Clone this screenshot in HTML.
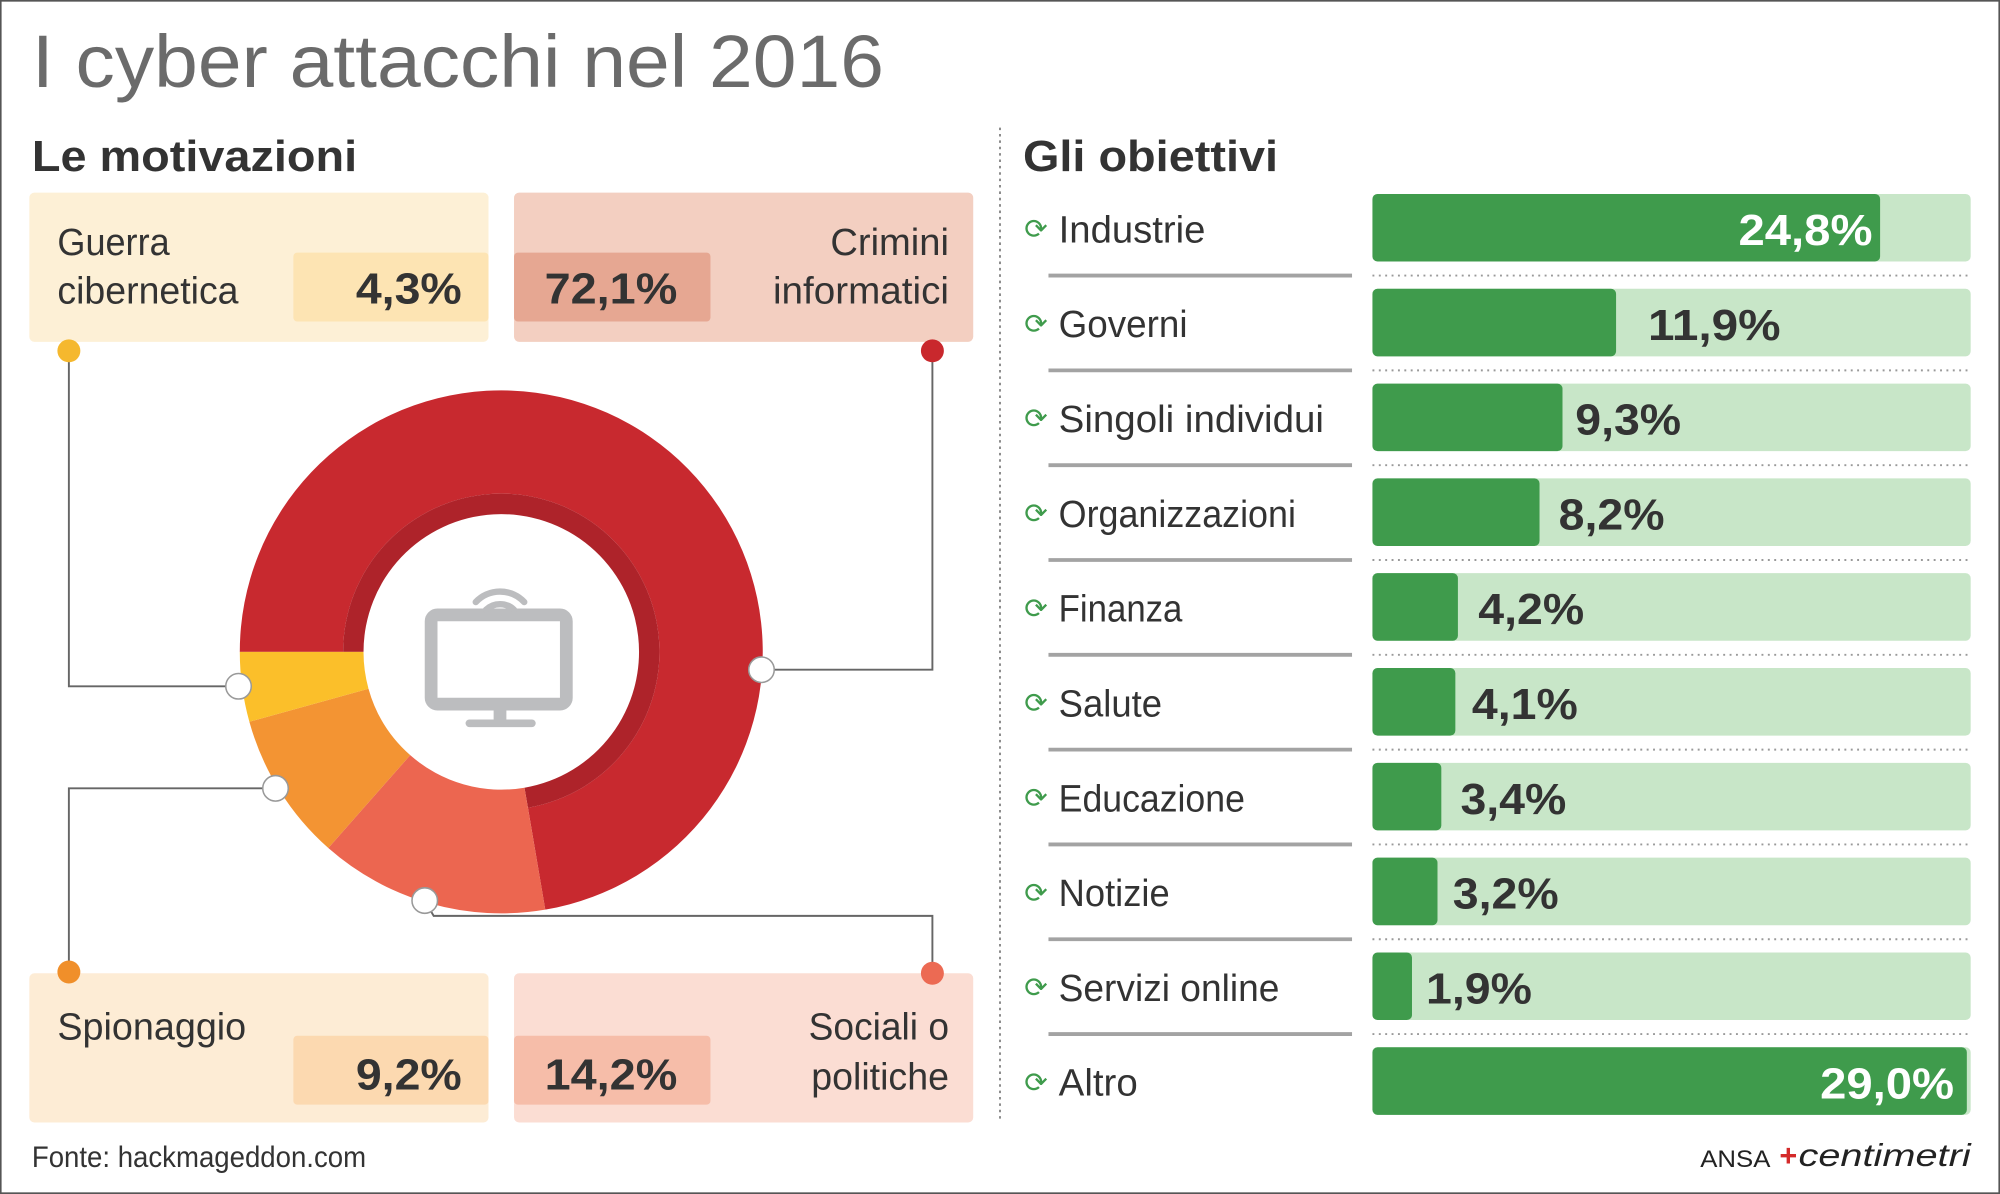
<!DOCTYPE html>
<html><head><meta charset="utf-8"><style>
html,body{margin:0;padding:0;background:#fff;}
svg{display:block;}
text{font-family:"Liberation Sans",sans-serif;}
</style></head><body>
<svg width="2000" height="1194" viewBox="0 0 1568 936" xmlns="http://www.w3.org/2000/svg">
<rect x="0" y="0" width="1568" height="936" fill="#fff"/>
<rect x="0.5" y="0.5" width="1567" height="935" fill="none" stroke="#555" stroke-width="1.5"/>

<text x="25" y="68" font-size="58" fill="#6b6b6b" textLength="668" lengthAdjust="spacingAndGlyphs">I cyber attacchi nel 2016</text>
<text x="25" y="134" font-size="34" font-weight="bold" fill="#333" textLength="255" lengthAdjust="spacingAndGlyphs">Le motivazioni</text>
<text x="802" y="134" font-size="34" font-weight="bold" fill="#333" textLength="200" lengthAdjust="spacingAndGlyphs">Gli obiettivi</text>
<line x1="784" y1="100" x2="784" y2="880" stroke="#888" stroke-width="1.5" stroke-dasharray="2,3"/>

<!-- boxes -->
<rect x="23" y="151" width="360" height="117" rx="4" fill="#fdf0d6"/>
<rect x="230" y="198" width="153" height="54" rx="3" fill="#fde4b3"/>
<text x="45" y="200" font-size="30" fill="#333" textLength="88" lengthAdjust="spacingAndGlyphs">Guerra</text>
<text x="45" y="238" font-size="30" fill="#333" textLength="142" lengthAdjust="spacingAndGlyphs">cibernetica</text>
<text x="279" y="238" font-size="34" font-weight="bold" fill="#333" textLength="83" lengthAdjust="spacingAndGlyphs">4,3%</text>

<rect x="403" y="151" width="360" height="117" rx="4" fill="#f3cfc1"/>
<rect x="403" y="198" width="154" height="54" rx="3" fill="#e6a792"/>
<text x="651" y="200" font-size="30" fill="#333" textLength="93" lengthAdjust="spacingAndGlyphs">Crimini</text>
<text x="606" y="238" font-size="30" fill="#333" textLength="138" lengthAdjust="spacingAndGlyphs">informatici</text>
<text x="427" y="238" font-size="34" font-weight="bold" fill="#333" textLength="104" lengthAdjust="spacingAndGlyphs">72,1%</text>

<rect x="23" y="763" width="360" height="117" rx="4" fill="#fdecd5"/>
<rect x="230" y="812" width="153" height="54" rx="3" fill="#fcd9b0"/>
<text x="45" y="815" font-size="30" fill="#333" textLength="148" lengthAdjust="spacingAndGlyphs">Spionaggio</text>
<text x="279" y="854" font-size="34" font-weight="bold" fill="#333" textLength="83" lengthAdjust="spacingAndGlyphs">9,2%</text>

<rect x="403" y="763" width="360" height="117" rx="4" fill="#fbddd3"/>
<rect x="403" y="812" width="154" height="54" rx="3" fill="#f6bda9"/>
<text x="634" y="815" font-size="30" fill="#333" textLength="110" lengthAdjust="spacingAndGlyphs">Sociali o</text>
<text x="636" y="854" font-size="30" fill="#333" textLength="108" lengthAdjust="spacingAndGlyphs">politiche</text>
<text x="427" y="854" font-size="34" font-weight="bold" fill="#333" textLength="104" lengthAdjust="spacingAndGlyphs">14,2%</text>

<!-- connector lines -->
<g fill="none" stroke="#666" stroke-width="1.5">
<polyline points="54,275 54,538 187,538"/>
<polyline points="731,275 731,525 597,525"/>
<polyline points="54,762 54,618 216,618"/>
<polyline points="731,763 731,718 340,718 333,706"/>
</g>
<circle cx="54" cy="275" r="9" fill="#f5b82e"/>
<circle cx="731" cy="275" r="9" fill="#c9282d"/>
<circle cx="54" cy="762" r="9" fill="#f08f2a"/>
<circle cx="731" cy="763" r="9" fill="#ec6a53"/>

<!-- donut -->
<path d="M188,511 A205,205 0 1 1 427.5,713.1 L413.9,633.2 A124,124 0 1 0 269,511 Z" fill="#c8292f"/>
<path d="M269,511 A124,124 0 1 1 413.9,633.2 L411.2,617.5 A108,108 0 1 0 285,511 Z" fill="#ae232a"/>
<path d="M427.5,713.1 A205,205 0 0 1 257.4,664.8 L321.6,592 A108,108 0 0 0 411.2,617.5 Z" fill="#ec6650"/>
<path d="M257.4,664.8 A205,205 0 0 1 195.5,565.8 L288.9,539.9 A108,108 0 0 0 321.6,592 Z" fill="#f39433"/>
<path d="M195.5,565.8 A205,205 0 0 1 188,511 L285,511 A108,108 0 0 0 288.9,539.9 Z" fill="#fbbf2a"/>
<g fill="#fff" stroke="#999" stroke-width="1.2">
<circle cx="187" cy="538" r="10"/>
<circle cx="216" cy="618" r="10"/>
<circle cx="597" cy="525" r="10"/>
<circle cx="333" cy="706" r="10"/>
</g>
<!-- tv icon -->
<rect x="338" y="482" width="106" height="70" rx="5" fill="none" stroke="#bcbdbf" stroke-width="10"/>
<rect x="387" y="556" width="10" height="12" fill="#bcbdbf"/>
<rect x="365" y="564" width="55" height="6" rx="3" fill="#bcbdbf"/>
<path d="M373,472 A26,26 0 0 1 411,472" fill="none" stroke="#bcbdbf" stroke-width="5" stroke-linecap="round"/>
<path d="M381,478 A16,16 0 0 1 403,478" fill="none" stroke="#bcbdbf" stroke-width="5" stroke-linecap="round"/>

<!-- right bars -->
<g id="rows">
<!-- row template: cy -->
</g>
<g font-size="30" fill="#333">
<!-- Rows: cy = 179 + i*74.33 -->
<g transform="translate(0,179)">
<rect x="1076" y="-27" width="469" height="53" rx="4" fill="#c8e6c8"/>
<rect x="1076" y="-27" width="398" height="53" rx="4" fill="#3f9b4c"/>
<text x="1363" y="13" font-size="34" font-weight="bold" fill="#fff" textLength="105" lengthAdjust="spacingAndGlyphs">24,8%</text>
<text x="803" y="8" font-size="22" fill="#3f9b4c">⟳</text>
<text x="830" y="11" textLength="115" lengthAdjust="spacingAndGlyphs">Industrie</text>
<line x1="822" y1="37" x2="1060" y2="37" stroke="#a3a3a3" stroke-width="3"/>
<line x1="1076" y1="37" x2="1545" y2="37" stroke="#999" stroke-width="1.5" stroke-dasharray="1.5,3.5"/>
</g>
<g transform="translate(0,253.33)">
<rect x="1076" y="-27" width="469" height="53" rx="4" fill="#c8e6c8"/>
<rect x="1076" y="-27" width="191" height="53" rx="4" fill="#3f9b4c"/>
<text x="1292" y="13" font-size="34" font-weight="bold" fill="#333" textLength="104" lengthAdjust="spacingAndGlyphs">11,9%</text>
<text x="803" y="8" font-size="22" fill="#3f9b4c">⟳</text>
<text x="830" y="11" textLength="101" lengthAdjust="spacingAndGlyphs">Governi</text>
<line x1="822" y1="37" x2="1060" y2="37" stroke="#a3a3a3" stroke-width="3"/>
<line x1="1076" y1="37" x2="1545" y2="37" stroke="#999" stroke-width="1.5" stroke-dasharray="1.5,3.5"/>
</g>
<g transform="translate(0,327.67)">
<rect x="1076" y="-27" width="469" height="53" rx="4" fill="#c8e6c8"/>
<rect x="1076" y="-27" width="149" height="53" rx="4" fill="#3f9b4c"/>
<text x="1235" y="13" font-size="34" font-weight="bold" fill="#333" textLength="83" lengthAdjust="spacingAndGlyphs">9,3%</text>
<text x="803" y="8" font-size="22" fill="#3f9b4c">⟳</text>
<text x="830" y="11" textLength="208" lengthAdjust="spacingAndGlyphs">Singoli individui</text>
<line x1="822" y1="37" x2="1060" y2="37" stroke="#a3a3a3" stroke-width="3"/>
<line x1="1076" y1="37" x2="1545" y2="37" stroke="#999" stroke-width="1.5" stroke-dasharray="1.5,3.5"/>
</g>
<g transform="translate(0,402)">
<rect x="1076" y="-27" width="469" height="53" rx="4" fill="#c8e6c8"/>
<rect x="1076" y="-27" width="131" height="53" rx="4" fill="#3f9b4c"/>
<text x="1222" y="13" font-size="34" font-weight="bold" fill="#333" textLength="83" lengthAdjust="spacingAndGlyphs">8,2%</text>
<text x="803" y="8" font-size="22" fill="#3f9b4c">⟳</text>
<text x="830" y="11" textLength="186" lengthAdjust="spacingAndGlyphs">Organizzazioni</text>
<line x1="822" y1="37" x2="1060" y2="37" stroke="#a3a3a3" stroke-width="3"/>
<line x1="1076" y1="37" x2="1545" y2="37" stroke="#999" stroke-width="1.5" stroke-dasharray="1.5,3.5"/>
</g>
<g transform="translate(0,476.33)">
<rect x="1076" y="-27" width="469" height="53" rx="4" fill="#c8e6c8"/>
<rect x="1076" y="-27" width="67" height="53" rx="4" fill="#3f9b4c"/>
<text x="1159" y="13" font-size="34" font-weight="bold" fill="#333" textLength="83" lengthAdjust="spacingAndGlyphs">4,2%</text>
<text x="803" y="8" font-size="22" fill="#3f9b4c">⟳</text>
<text x="830" y="11" textLength="97" lengthAdjust="spacingAndGlyphs">Finanza</text>
<line x1="822" y1="37" x2="1060" y2="37" stroke="#a3a3a3" stroke-width="3"/>
<line x1="1076" y1="37" x2="1545" y2="37" stroke="#999" stroke-width="1.5" stroke-dasharray="1.5,3.5"/>
</g>
<g transform="translate(0,550.67)">
<rect x="1076" y="-27" width="469" height="53" rx="4" fill="#c8e6c8"/>
<rect x="1076" y="-27" width="65" height="53" rx="4" fill="#3f9b4c"/>
<text x="1154" y="13" font-size="34" font-weight="bold" fill="#333" textLength="83" lengthAdjust="spacingAndGlyphs">4,1%</text>
<text x="803" y="8" font-size="22" fill="#3f9b4c">⟳</text>
<text x="830" y="11" textLength="81" lengthAdjust="spacingAndGlyphs">Salute</text>
<line x1="822" y1="37" x2="1060" y2="37" stroke="#a3a3a3" stroke-width="3"/>
<line x1="1076" y1="37" x2="1545" y2="37" stroke="#999" stroke-width="1.5" stroke-dasharray="1.5,3.5"/>
</g>
<g transform="translate(0,625)">
<rect x="1076" y="-27" width="469" height="53" rx="4" fill="#c8e6c8"/>
<rect x="1076" y="-27" width="54" height="53" rx="4" fill="#3f9b4c"/>
<text x="1145" y="13" font-size="34" font-weight="bold" fill="#333" textLength="83" lengthAdjust="spacingAndGlyphs">3,4%</text>
<text x="803" y="8" font-size="22" fill="#3f9b4c">⟳</text>
<text x="830" y="11" textLength="146" lengthAdjust="spacingAndGlyphs">Educazione</text>
<line x1="822" y1="37" x2="1060" y2="37" stroke="#a3a3a3" stroke-width="3"/>
<line x1="1076" y1="37" x2="1545" y2="37" stroke="#999" stroke-width="1.5" stroke-dasharray="1.5,3.5"/>
</g>
<g transform="translate(0,699.33)">
<rect x="1076" y="-27" width="469" height="53" rx="4" fill="#c8e6c8"/>
<rect x="1076" y="-27" width="51" height="53" rx="4" fill="#3f9b4c"/>
<text x="1139" y="13" font-size="34" font-weight="bold" fill="#333" textLength="83" lengthAdjust="spacingAndGlyphs">3,2%</text>
<text x="803" y="8" font-size="22" fill="#3f9b4c">⟳</text>
<text x="830" y="11" textLength="87" lengthAdjust="spacingAndGlyphs">Notizie</text>
<line x1="822" y1="37" x2="1060" y2="37" stroke="#a3a3a3" stroke-width="3"/>
<line x1="1076" y1="37" x2="1545" y2="37" stroke="#999" stroke-width="1.5" stroke-dasharray="1.5,3.5"/>
</g>
<g transform="translate(0,773.67)">
<rect x="1076" y="-27" width="469" height="53" rx="4" fill="#c8e6c8"/>
<rect x="1076" y="-27" width="31" height="53" rx="4" fill="#3f9b4c"/>
<text x="1118" y="13" font-size="34" font-weight="bold" fill="#333" textLength="83" lengthAdjust="spacingAndGlyphs">1,9%</text>
<text x="803" y="8" font-size="22" fill="#3f9b4c">⟳</text>
<text x="830" y="11" textLength="173" lengthAdjust="spacingAndGlyphs">Servizi online</text>
<line x1="822" y1="37" x2="1060" y2="37" stroke="#a3a3a3" stroke-width="3"/>
<line x1="1076" y1="37" x2="1545" y2="37" stroke="#999" stroke-width="1.5" stroke-dasharray="1.5,3.5"/>
</g>
<g transform="translate(0,848)">
<rect x="1076" y="-27" width="469" height="53" rx="4" fill="#c8e6c8"/>
<rect x="1076" y="-27" width="466" height="53" rx="4" fill="#3f9b4c"/>
<text x="1427" y="13" font-size="34" font-weight="bold" fill="#fff" textLength="105" lengthAdjust="spacingAndGlyphs">29,0%</text>
<text x="803" y="8" font-size="22" fill="#3f9b4c">⟳</text>
<text x="830" y="11" textLength="62" lengthAdjust="spacingAndGlyphs">Altro</text>
</g>
</g>

<text x="25" y="915" font-size="23" fill="#333" textLength="262" lengthAdjust="spacingAndGlyphs">Fonte: hackmageddon.com</text>
<text x="1333" y="915" font-size="19" fill="#222" textLength="55" lengthAdjust="spacingAndGlyphs">ANSA</text>
<text x="1395" y="914" font-size="24" fill="#d42a2a" font-weight="bold">+</text>
<text x="1410" y="914" font-size="25" fill="#222" font-style="italic" textLength="135" lengthAdjust="spacingAndGlyphs">centimetri</text>
</svg>
</body></html>
